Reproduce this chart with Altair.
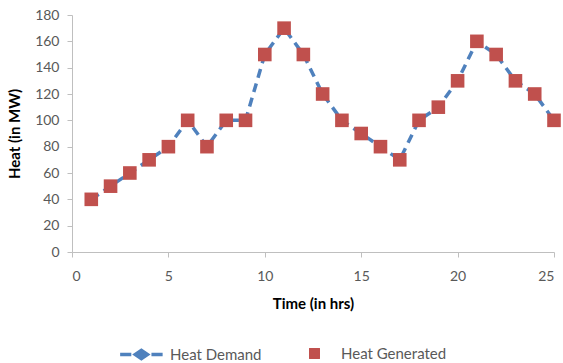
import altair as alt
import pandas as pd

hours = list(range(1, 26))
heat_demand = [40, 50, 60, 70, 80, 100, 80, 100, 100, 150, 170, 150, 120,
               100, 90, 80, 70, 100, 110, 130, 160, 150, 130, 120, 100]
heat_generated = [40, 50, 60, 70, 80, 100, 80, 100, 100, 150, 170, 150, 120,
                  100, 90, 80, 70, 100, 110, 130, 160, 150, 130, 120, 100]

df = pd.DataFrame({
    "hour": hours,
    "demand": heat_demand,
    "generated": heat_generated,
    "s1": "Heat Demand",
    "s2": "Heat Generated",
})

FONT = "Lato"
BLUE = "#4F81BD"
RED = "#C0504D"

x = alt.X("hour:Q", title="Time (in hrs)",
          scale=alt.Scale(domain=[0, 25], nice=False),
          axis=alt.Axis(values=[0, 5, 10, 15, 20, 25], grid=False,
                        labelPadding=12, titlePadding=13))
y_axis = alt.Axis(values=list(range(0, 181, 20)), grid=False, titleX=-50)

line = alt.Chart(df).mark_line(strokeWidth=3.5, strokeDash=[9, 6]).encode(
    x=x,
    y=alt.Y("demand:Q", title="Heat (in MW)",
            scale=alt.Scale(domain=[0, 180], nice=False), axis=y_axis),
    stroke=alt.Stroke("s1:N", scale=alt.Scale(range=[BLUE]),
                      legend=alt.Legend(title=None, orient="none",
                                        legendX=46, legendY=315, padding=0,
                                        symbolType="M-1,0L-0.5,0M-0.32,0L-0.05,-0.18L0.22,0L-0.05,0.18ZM0.4,0L0.9,0",
                                        symbolSize=2000, symbolStrokeWidth=3.5,
                                        symbolFillColor=BLUE,
                                        labelFontSize=15, labelColor="#595959",
                                        labelFont=FONT, labelOffset=3)),
)

points = alt.Chart(df).mark_square(size=185, opacity=1).encode(
    x=x,
    y=alt.Y("generated:Q", scale=alt.Scale(domain=[0, 180], nice=False), axis=y_axis,
            title="Heat (in MW)"),
    fill=alt.Fill("s2:N", scale=alt.Scale(range=[RED]),
                  legend=alt.Legend(title=None, orient="none",
                                    legendX=235, legendY=331, padding=0,
                                    symbolType="square", symbolSize=120,
                                    labelFontSize=15, labelColor="#595959",
                                    labelFont=FONT, labelOffset=19)),
)

chart = alt.layer(line, points).properties(
    width=482, height=237,
    autosize=alt.AutoSizeParams(type="none"),
    padding={"left": 72, "top": 15, "right": 9, "bottom": 111},
).configure_view(stroke=None).configure_axis(
    domainColor="#BFBFBF", tickColor="#BFBFBF", tickSize=5,
    labelFont=FONT, labelFontSize=14, labelColor="#595959", labelPadding=8,
    titleFont=FONT, titleFontSize=15, titleFontWeight="bold", titleColor="#000000",
)

chart.save("out.html", embed_options={"renderer": "svg", "actions": False})
